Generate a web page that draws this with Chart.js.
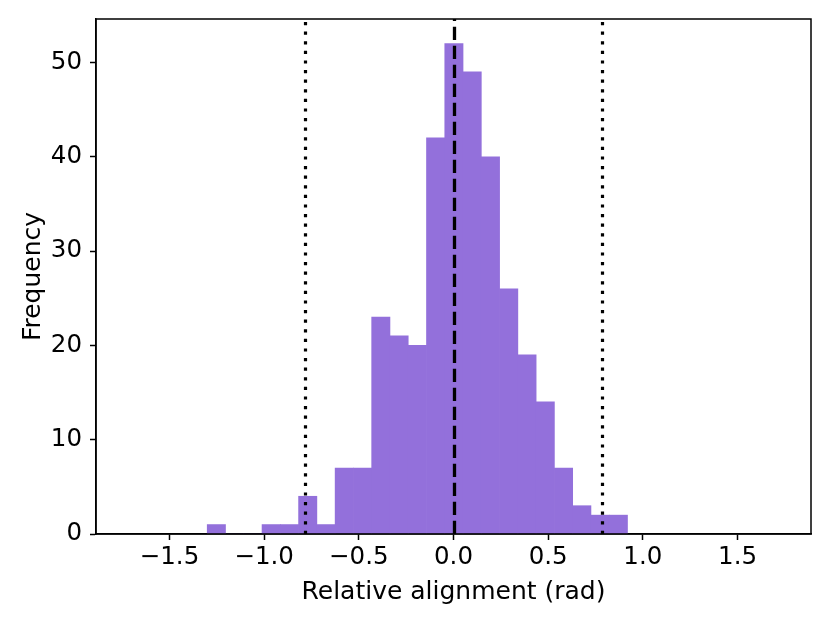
<!DOCTYPE html>
<html>
<head>
<meta charset="utf-8">
<script src="https://cdn.jsdelivr.net/npm/chart.js@4/dist/chart.umd.min.js"></script>
<style>
  html, body { margin: 0; padding: 0; background: #fff; }
  canvas { display: block; }
</style>
</head>
<body>
<canvas id="histChart" width="830" height="623"></canvas>
<script>
// Histogram bins (23 equal bins)
const binStart = -1.3006;
const binWidth = 0.0965;
const counts = [1, 0, 0, 1, 1, 4, 1, 7, 7, 23, 21, 20, 42, 52, 49, 40, 26, 19, 14, 7, 3, 2, 2];

// Vertical reference lines (±pi/4 dotted, 0 dashed)
const refLineX = [-0.785, 0, 0.785];
const refLineStyle = ['dotted', 'dashed', 'dotted'];

// Axis ranges and ticks
const xRange = [-1.888, 1.888];
const yRange = [0, 54.6];
const xTickStep = 0.5;
const yTickStep = 10;

const FONT = "'DejaVu Sans', sans-serif";

// bar centres built from bin edges
const histData = counts.map(function (c, i) {
    return { x: binStart + (i + 0.5) * binWidth, y: c };
});

// top/right spines + reference lines
const framePlugin = {
    id: 'frame',
    afterDatasetsDraw: function (chart) {
        const ctx = chart.ctx;
        const area = chart.chartArea;
        const xs = chart.scales.x;
        ctx.save();
        ctx.strokeStyle = '#000';
        refLineX.forEach(function (v, i) {
            const px = Math.round(xs.getPixelForValue(v)) + 0.5;
            if (refLineStyle[i] === 'dashed') {
                ctx.lineWidth = 3.3;
                ctx.setLineDash([13.3, 5.7]);
            } else {
                ctx.lineWidth = 3.2;
                ctx.setLineDash([3.2, 6.4]);
            }
            ctx.beginPath();
            ctx.moveTo(px, area.bottom);
            ctx.lineTo(px, area.top);
            ctx.stroke();
        });
        ctx.setLineDash([]);
        ctx.lineWidth = 1.5;
        ctx.strokeRect(area.left, area.top, area.right - area.left, area.bottom - area.top);
        ctx.restore();
    }
};

function fmtTick(v) {
    return v.toFixed(1).replace('-', '\u2212');
}

const ctx = document.getElementById('histChart').getContext('2d');
new Chart(ctx, {
    type: 'bar',
    data: {
        datasets: [{
            data: histData,
            backgroundColor: '#9370db',
            borderWidth: 0,
            barPercentage: 1.0,
            categoryPercentage: 1.0
        }]
    },
    options: {
        responsive: false,
        animation: false,
        devicePixelRatio: 1,
        layout: { padding: { left: 0, right: 19, top: 19, bottom: 0 } },
        plugins: {
            legend: { display: false },
            tooltip: { enabled: false }
        },
        scales: {
            x: {
                type: 'linear',
                min: xRange[0],
                max: xRange[1],
                offset: false,
                afterFit: function (scale) {
                    scale.height = 89;
                    scale.paddingLeft = 0;
                    scale.paddingRight = 0;
                },
                grid: {
                    offset: false,
                    drawOnChartArea: false,
                    drawTicks: true,
                    tickLength: 6,
                    tickWidth: 1.5,
                    tickColor: '#000'
                },
                border: { display: true, color: '#000', width: 1.5 },
                ticks: {
                    stepSize: xTickStep,
                    includeBounds: false,
                    maxRotation: 0,
                    autoSkip: false,
                    padding: 3,
                    color: '#000',
                    font: { family: FONT, size: 24.5 },
                    callback: function (v) { return fmtTick(v); }
                },
                title: {
                    display: true,
                    text: 'Relative alignment (rad)',
                    color: '#000',
                    font: { family: FONT, size: 25 },
                    padding: { top: 0, bottom: 16 }
                }
            },
            y: {
                min: yRange[0],
                max: yRange[1],
                afterFit: function (scale) {
                    scale.width = 96;
                    scale.paddingTop = 0;
                    scale.paddingBottom = 0;
                },
                grid: {
                    drawOnChartArea: false,
                    drawTicks: true,
                    tickLength: 6,
                    tickWidth: 1.5,
                    tickColor: '#000'
                },
                border: { display: true, color: '#000', width: 1.5 },
                ticks: {
                    stepSize: yTickStep,
                    includeBounds: false,
                    padding: 8,
                    color: '#000',
                    font: { family: FONT, size: 24.5 },
                    callback: function (v) { return String(v); }
                },
                title: {
                    display: true,
                    text: 'Frequency',
                    color: '#000',
                    font: { family: FONT, size: 25 },
                    padding: { top: 18, bottom: 0 }
                }
            }
        }
    },
    plugins: [framePlugin]
});
</script>
</body>
</html>
